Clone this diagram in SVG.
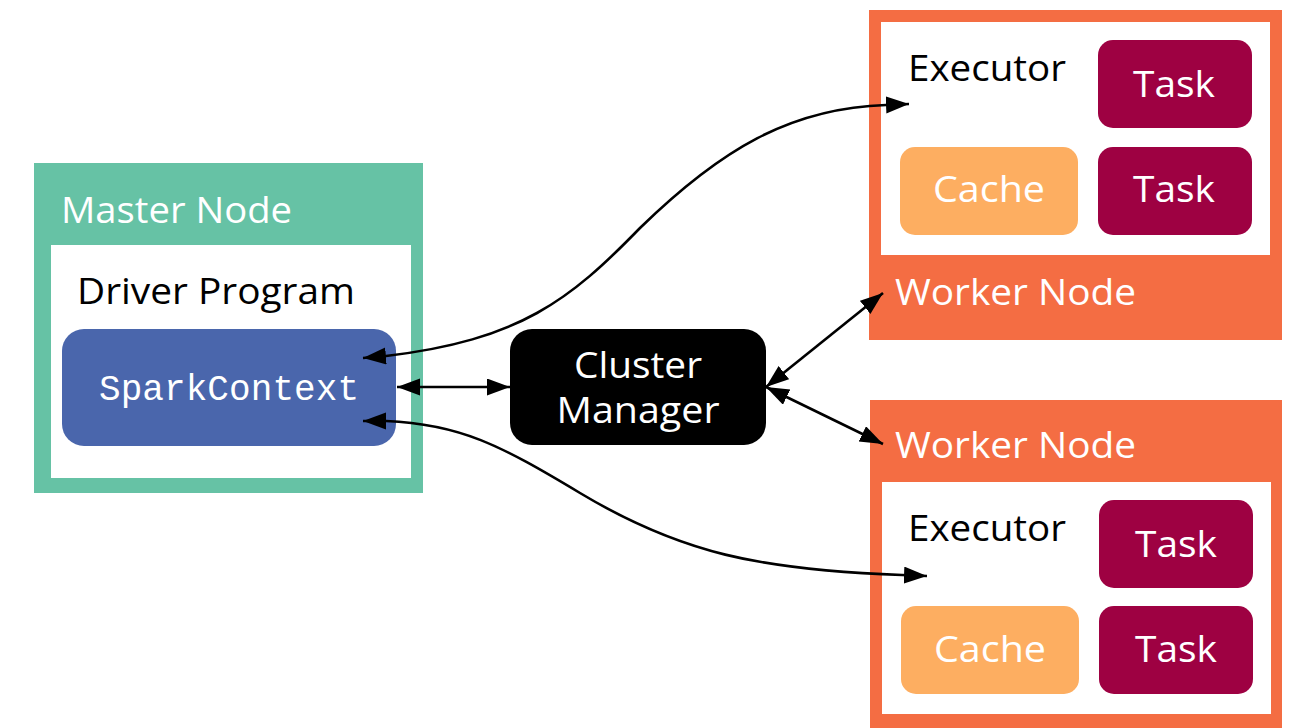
<svg xmlns="http://www.w3.org/2000/svg" width="1293" height="728" viewBox="0 0 1293 728">
<defs>
<style>
.lbl{font-family:"Open Sans","Noto Sans","Liberation Sans",sans-serif;font-size:36px;}
.w{fill:#ffffff;}
.k{fill:#000000;}
.mono{font-family:"Liberation Mono","DejaVu Sans Mono",monospace;font-size:36px;fill:#ffffff;}
.task{fill:#9E0142;}
.cache{fill:#FDAE61;}
.worker{fill:#F46D43;}
.edge{fill:none;stroke:#000;stroke-width:2.6;marker-start:url(#ah);marker-end:url(#ah);}
</style>
<marker id="ah" markerUnits="userSpaceOnUse" markerWidth="24" markerHeight="18" refX="23" refY="8.5" orient="auto-start-reverse">
<path d="M0,0 L23,8.5 L0,17 z" fill="#000"/>
</marker>
</defs>
<rect width="1293" height="728" fill="#ffffff"/>

<g id="master-node">
<rect x="34" y="163" width="389" height="330" fill="#66C2A5"/>
<rect x="51" y="245" width="360" height="233" fill="#ffffff"/>
<text class="lbl w" x="61" y="223" textLength="231" lengthAdjust="spacingAndGlyphs">Master Node</text>
<text class="lbl k" x="77" y="304" textLength="278" lengthAdjust="spacingAndGlyphs">Driver Program</text>
</g>
<g id="spark-context">
<rect x="62" y="329" width="334" height="117" rx="22" fill="#4A66AC"/>
<text class="mono" x="229" y="400" text-anchor="middle" textLength="260">SparkContext</text>
</g>

<g id="cluster-manager">
<rect x="510" y="329" width="256" height="116" rx="22" fill="#000000"/>
<text class="lbl w" x="638" y="378" text-anchor="middle" textLength="128" lengthAdjust="spacingAndGlyphs">Cluster</text>
<text class="lbl w" x="638" y="423" text-anchor="middle" textLength="163" lengthAdjust="spacingAndGlyphs">Manager</text>
</g>

<g id="worker-node-1">
<rect class="worker" x="869" y="10" width="413" height="330"/>
<rect x="881" y="22" width="389" height="233" fill="#ffffff"/>
<text class="lbl w" x="895" y="305" textLength="241" lengthAdjust="spacingAndGlyphs">Worker Node</text>
<text class="lbl k" x="908" y="81" textLength="158" lengthAdjust="spacingAndGlyphs">Executor</text>
</g>
<g id="task-1">
<rect class="task" x="1098" y="40" width="154" height="88" rx="15"/>
<text class="lbl w" x="1174" y="97" text-anchor="middle" textLength="82" lengthAdjust="spacingAndGlyphs">Task</text>
</g>
<g id="cache-1">
<rect class="cache" x="900" y="147" width="178" height="88" rx="15"/>
<text class="lbl w" x="989" y="202" text-anchor="middle" textLength="112" lengthAdjust="spacingAndGlyphs">Cache</text>
</g>
<g id="task-2">
<rect class="task" x="1098" y="147" width="154" height="88" rx="15"/>
<text class="lbl w" x="1174" y="202" text-anchor="middle" textLength="82" lengthAdjust="spacingAndGlyphs">Task</text>
</g>

<g id="worker-node-2">
<rect class="worker" x="870" y="400" width="412" height="330"/>
<rect x="882" y="482" width="389" height="232" fill="#ffffff"/>
<text class="lbl w" x="895" y="458" textLength="241" lengthAdjust="spacingAndGlyphs">Worker Node</text>
<text class="lbl k" x="908" y="541" textLength="158" lengthAdjust="spacingAndGlyphs">Executor</text>
</g>
<g id="task-3">
<rect class="task" x="1099" y="500" width="154" height="88" rx="15"/>
<text class="lbl w" x="1176" y="557" text-anchor="middle" textLength="82" lengthAdjust="spacingAndGlyphs">Task</text>
</g>
<g id="cache-2">
<rect class="cache" x="901" y="606" width="178" height="88" rx="15"/>
<text class="lbl w" x="990" y="662" text-anchor="middle" textLength="112" lengthAdjust="spacingAndGlyphs">Cache</text>
</g>
<g id="task-4">
<rect class="task" x="1099" y="606" width="154" height="88" rx="15"/>
<text class="lbl w" x="1176" y="662" text-anchor="middle" textLength="82" lengthAdjust="spacingAndGlyphs">Task</text>
</g>

<g id="connectors">
<path class="edge" d="M363,358 L386,356 C520,340 570,300 640,228 C720,150 790,108 886,105 L909,104"/>
<path class="edge" d="M397,387 L510,387"/>
<path class="edge" d="M363,421 L386,421 C460,424 500,445 580,493 C680,553 760,570 902,575 L927,576"/>
<path class="edge" d="M766,387 L883,293"/>
<path class="edge" d="M766,387 L883,444"/>
</g>
</svg>
